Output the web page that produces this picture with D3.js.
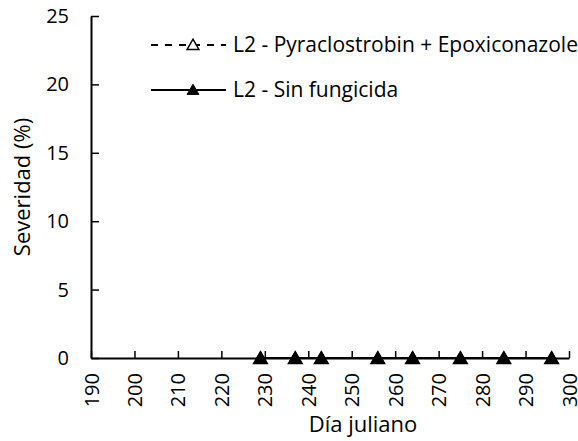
<!DOCTYPE html>
<html>
<head>
<meta charset="utf-8">
<script src="https://cdn.jsdelivr.net/npm/d3@7"></script>
<style>
  body { margin: 0; background: #fff; }
  svg text { font-family: "Open Sans", Lato, sans-serif; fill: #000; }
</style>
</head>
<body>
<div id="chart"></div>
<script>
// Día juliano of each assessment and severity (%) per treatment
const days = [229, 237, 243, 256, 264, 275, 285, 296];
const sevFungicide = [0, 0, 0, 0, 0, 0, 0, 0];   // L2 - Pyraclostrobin + Epoxiconazole
const sevNoFungicide = [0, 0, 0, 0, 0, 0, 0, 0]; // L2 - Sin fungicida

const xTicks = [190, 200, 210, 220, 230, 240, 250, 260, 270, 280, 290, 300];
const yTicks = [0, 5, 10, 15, 20, 25];

const seriesNames = ['L2 - Pyraclostrobin + Epoxiconazole', 'L2 - Sin fungicida'];

const W = 578, H = 441;
const plotLeft = 91, plotRight = 569, plotTop = 16, plotBottom = 358;

const svg = d3.select('#chart').append('svg')
  .attr('width', W).attr('height', H);

const x = d3.scaleLinear().domain([190, 300]).range([plotLeft, plotRight]);
const y = d3.scaleLinear().domain([0, 25]).range([plotBottom, plotTop]);

// axes — ticks point inward like the Excel original
const xAxis = svg.append('g')
  .attr('transform', `translate(0,${plotBottom})`)
  .call(d3.axisBottom(x).tickValues(xTicks).tickSize(-7).tickSizeOuter(0).tickFormat(d3.format('d')));
xAxis.select('.domain').attr('stroke-width', 2);
xAxis.selectAll('.tick line').attr('stroke-width', 1.5);
xAxis.selectAll('.tick text')
  .attr('font-size', 20)
  .attr('transform', 'rotate(-90)')
  .attr('text-anchor', 'end')
  .attr('x', -15)
  .attr('y', 0)
  .attr('dy', '0.35em');

const yAxis = svg.append('g')
  .attr('transform', `translate(${plotLeft},0)`)
  .call(d3.axisLeft(y).tickValues(yTicks).tickSize(-8).tickSizeOuter(0));
yAxis.select('.domain').attr('stroke-width', 2);
yAxis.selectAll('.tick line').attr('stroke-width', 1.5);
yAxis.selectAll('.tick text')
  .attr('font-size', 20)
  .attr('x', -22);

svg.append('text')
  .attr('transform', `translate(30,${(plotTop + plotBottom) / 2}) rotate(-90)`)
  .attr('text-anchor', 'middle')
  .attr('font-size', 22)
  .text('Severidad (%)');

svg.append('text')
  .attr('x', 363).attr('y', 432)
  .attr('text-anchor', 'middle')
  .attr('font-size', 22)
  .text('Día juliano');

const tri = d3.symbol().type(d3.symbolTriangle).size(80);
const triLeg = d3.symbol().type(d3.symbolTriangle).size(60);

const line = d3.line().x(d => x(d[0])).y(d => y(d[1]));

// dashed series with open triangles
const dataA = days.map((d, i) => [d, sevFungicide[i]]);
svg.append('path').datum(dataA)
  .attr('d', line).attr('fill', 'none')
  .attr('stroke', '#000').attr('stroke-width', 2).attr('stroke-dasharray', '7,7');
svg.selectAll('path.markA').data(dataA).join('path')
  .attr('class', 'markA')
  .attr('d', tri)
  .attr('transform', d => `translate(${x(d[0])},${y(d[1]) + 1.5})`)
  .attr('fill', '#fff').attr('stroke', '#000').attr('stroke-width', 1.5);

// solid series with filled triangles
const dataB = days.map((d, i) => [d, sevNoFungicide[i]]);
svg.append('path').datum(dataB)
  .attr('d', line).attr('fill', 'none')
  .attr('stroke', '#000').attr('stroke-width', 2);
svg.selectAll('path.markB').data(dataB).join('path')
  .attr('class', 'markB')
  .attr('d', tri)
  .attr('transform', d => `translate(${x(d[0])},${y(d[1]) + 1.5})`)
  .attr('fill', '#000').attr('stroke', '#000').attr('stroke-width', 1);

// legend
const legY = [45, 90];
const leg = svg.append('g');
leg.append('line')
  .attr('x1', 151).attr('x2', 226).attr('y1', legY[0]).attr('y2', legY[0])
  .attr('stroke', '#000').attr('stroke-width', 2).attr('stroke-dasharray', '7,7');
leg.append('path').attr('d', triLeg)
  .attr('transform', `translate(193,${legY[0] + 1})`)
  .attr('fill', '#fff').attr('stroke', '#000').attr('stroke-width', 1.5);
leg.append('line')
  .attr('x1', 151).attr('x2', 226).attr('y1', legY[1]).attr('y2', legY[1])
  .attr('stroke', '#000').attr('stroke-width', 2);
leg.append('path').attr('d', triLeg)
  .attr('transform', `translate(193,${legY[1] + 1})`)
  .attr('fill', '#000').attr('stroke', '#000').attr('stroke-width', 1);
leg.selectAll('text').data(seriesNames).join('text')
  .attr('x', 233)
  .attr('y', (d, i) => legY[i])
  .attr('dy', '0.35em')
  .attr('font-size', 21)
  .text(d => d);
</script>
</body>
</html>
